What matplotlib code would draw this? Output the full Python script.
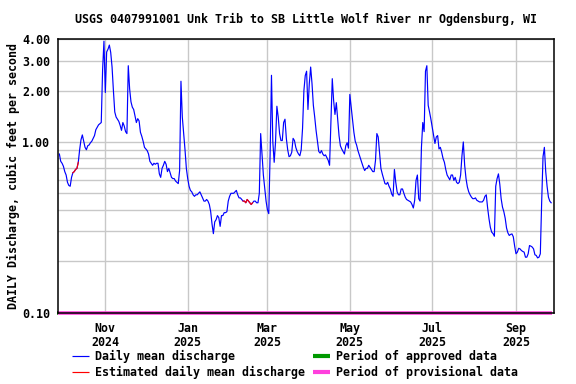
import matplotlib

matplotlib.use("Agg")
import matplotlib.pyplot as plt
import pandas as pd
from matplotlib.lines import Line2D

TITLE = "USGS 0407991001 Unk Trib to SB Little Wolf River nr Ogdensburg, WI"
YLABEL = "DAILY Discharge, cubic feet per second"

first_day = "2024-09-28"
last_day = "2025-09-27"

# daily mean discharge (cfs), read month by month
flow_2024_09 = [0.85, 0.77, 0.75]
flow_2024_10 = [0.72, 0.67, 0.64, 0.58, 0.556, 0.55, 0.62, 0.66, 0.67, 0.69,
                0.70, 0.76, 0.90, 1.03, 1.10, 1.01, 0.93, 0.90, 0.95, 0.96,
                0.99, 1.01, 1.05, 1.09, 1.18, 1.22, 1.26, 1.28, 1.30, 2.65, 3.9]
flow_2024_11 = [1.95, 3.37, 3.5, 3.7, 3.35, 2.75, 2.0, 1.5, 1.40, 1.36,
                1.32, 1.25, 1.17, 1.30, 1.24, 1.15, 1.12, 2.8, 2.05, 1.72,
                1.60, 1.55, 1.42, 1.30, 1.37, 1.33, 1.14, 1.08, 1.01, 0.93]
flow_2024_12 = [0.91, 0.89, 0.85, 0.77, 0.75, 0.73, 0.75, 0.74, 0.75, 0.75,
                0.65, 0.62, 0.70, 0.73, 0.77, 0.74, 0.67, 0.70, 0.66, 0.62,
                0.61, 0.61, 0.59, 0.58, 0.57, 0.68, 2.27, 1.40, 1.12, 0.90, 0.70]
flow_2025_01 = [0.61, 0.55, 0.52, 0.51, 0.49, 0.48, 0.49, 0.49, 0.50, 0.51,
                0.49, 0.47, 0.45, 0.45, 0.46, 0.45, 0.43, 0.39, 0.33, 0.29,
                0.34, 0.35, 0.37, 0.36, 0.32, 0.37, 0.37, 0.385, 0.385, 0.39, 0.45]
flow_2025_02 = [0.48, 0.50, 0.50, 0.50, 0.51, 0.52, 0.49, 0.47, 0.47, 0.46,
                0.45, 0.45, 0.44, 0.46, 0.45, 0.44, 0.43, 0.44, 0.45, 0.45,
                0.44, 0.44, 0.50, 1.12, 0.85, 0.64, 0.54, 0.45]
flow_2025_03 = [0.40, 0.38, 0.85, 2.46, 1.0, 0.76, 1.0, 1.62, 1.40, 1.12,
                1.02, 1.02, 1.30, 1.36, 1.05, 0.90, 0.82, 0.83, 0.87, 1.05,
                1.02, 0.93, 0.88, 0.85, 0.83, 0.90, 1.2, 2.0, 2.45, 2.6, 1.55]
flow_2025_04 = [2.2, 2.75, 2.2, 1.64, 1.40, 1.17, 1.01, 0.88, 0.86, 0.89,
                0.85, 0.83, 0.84, 0.81, 0.78, 0.73, 1.28, 2.35, 1.75, 1.45,
                1.70, 1.37, 1.09, 0.95, 0.91, 0.88, 0.85, 0.95, 0.99, 0.92]
flow_2025_05 = [1.90, 1.60, 1.34, 1.14, 1.01, 0.96, 0.89, 0.84, 0.79, 0.75,
                0.71, 0.68, 0.70, 0.70, 0.73, 0.71, 0.69, 0.67, 0.67, 0.78,
                1.12, 1.07, 0.87, 0.70, 0.65, 0.61, 0.57, 0.565, 0.58, 0.55, 0.53]
flow_2025_06 = [0.495, 0.48, 0.69, 0.58, 0.51, 0.49, 0.49, 0.53, 0.53, 0.50,
                0.475, 0.46, 0.455, 0.45, 0.445, 0.43, 0.41, 0.455, 0.595, 0.64,
                0.465, 0.45, 0.93, 1.30, 1.15, 2.6, 2.8, 1.64, 1.50, 1.36]
flow_2025_07 = [1.22, 1.09, 0.98, 1.07, 1.09, 0.91, 0.93, 0.87, 0.80, 0.76,
                0.69, 0.64, 0.62, 0.60, 0.64, 0.64, 0.595, 0.62, 0.58, 0.57,
                0.58, 0.64, 0.83, 1.00, 0.73, 0.61, 0.545, 0.51, 0.49, 0.475, 0.465]
flow_2025_08 = [0.465, 0.47, 0.455, 0.45, 0.445, 0.445, 0.445, 0.455, 0.48, 0.49,
                0.41, 0.355, 0.316, 0.296, 0.29, 0.28, 0.55, 0.61, 0.65, 0.565,
                0.465, 0.415, 0.39, 0.357, 0.313, 0.293, 0.283, 0.287, 0.289, 0.278, 0.245]
flow_2025_09 = [0.221, 0.226, 0.238, 0.236, 0.231, 0.228, 0.226, 0.211, 0.211, 0.221,
                0.247, 0.245, 0.242, 0.236, 0.218, 0.216, 0.209, 0.211, 0.221, 0.445,
                0.82, 0.93, 0.67, 0.55, 0.475, 0.45, 0.44]

estimated_periods = [("2024-10-08", "2024-10-12"), ("2025-02-11", "2025-02-18")]
approved_period = ("2024-09-26", "2024-09-27")
provisional_period = ("2024-09-27", "2025-09-28")

x_range = ("2024-09-27 05:00", "2025-09-29 03:00")
y_range = (0.1, 4.0)
month_ticks = ["2024-11-01", "2025-01-01", "2025-03-01", "2025-05-01", "2025-07-01", "2025-09-01"]
month_labels = ["Nov\n2024", "Jan\n2025", "Mar\n2025", "May\n2025", "Jul\n2025", "Sep\n2025"]
y_grid = [0.1, 0.2, 0.3, 0.4, 0.5, 0.6, 0.7, 0.8, 0.9, 1.0, 2.0, 3.0, 4.0]
y_labels = {0.1: "0.10", 1.0: "1.00", 2.0: "2.00", 3.0: "3.00", 4.0: "4.00"}

BLUE = "#0000ff"
RED = "#ff0000"
GREEN = "#009900"
PINK = "#ff40dd"
GRID = "#c8c8c8"
FONT = dict(family=["DejaVu Sans Mono"], weight="bold", size=8.4)


def main() -> None:
    dates = pd.date_range(first_day, last_day, freq="D")
    flow = (flow_2024_09 + flow_2024_10 + flow_2024_11 + flow_2024_12 + flow_2025_01
            + flow_2025_02 + flow_2025_03 + flow_2025_04 + flow_2025_05 + flow_2025_06
            + flow_2025_07 + flow_2025_08 + flow_2025_09)
    series = pd.Series(flow, index=dates)

    W, H = 576, 384
    fig = plt.figure(figsize=(W / 100, H / 100), dpi=100)
    ax = fig.add_axes([58.3 / W, 1 - 312.5 / H, (554 - 58.3) / W, (312.5 - 39.3) / H])

    ax.set_yscale("log")
    ax.set_ylim(*y_range)
    ax.set_xlim(pd.Timestamp(x_range[0]), pd.Timestamp(x_range[1]))

    ax.plot(series.index, series.values, color=BLUE, lw=0.85, zorder=3)
    for start, end in estimated_periods:
        part = series[start:end]
        ax.plot(part.index, part.values, color=RED, lw=0.85, zorder=4)

    # data-status bars along the bottom of the plot
    ax.plot(pd.to_datetime(list(approved_period)), [y_range[0]] * 2, color=GREEN,
            lw=2.6, solid_capstyle="butt", clip_on=False, zorder=2)
    ax.plot(pd.to_datetime(list(provisional_period)), [y_range[0]] * 2, color=PINK,
            lw=2.6, solid_capstyle="butt", clip_on=False, zorder=2)

    ax.set_yticks(y_grid)
    ax.set_yticklabels([y_labels.get(v, "") for v in y_grid])
    ax.yaxis.set_minor_locator(matplotlib.ticker.NullLocator())
    ax.set_xticks(pd.to_datetime(month_ticks))
    ax.set_xticklabels(month_labels, linespacing=1.05)
    ax.tick_params(length=0, pad=6)
    ax.tick_params(axis="x", pad=7)
    for lab in ax.get_xticklabels() + ax.get_yticklabels():
        lab.set_fontfamily(FONT["family"])
        lab.set_fontweight("bold")
        lab.set_fontsize(FONT["size"])

    ax.grid(True, color=GRID, lw=1.0, zorder=1)
    ax.set_axisbelow(True)
    for sp in ax.spines.values():
        sp.set_linewidth(1.1)
        sp.set_color("black")
        sp.set_zorder(5)

    fig.text(306 / W, 1 - 19 / H, TITLE, ha="center", va="center", **FONT)
    fig.text(13 / W, 1 - 176 / H, YLABEL, ha="center", va="center", rotation=90, **FONT)

    legend = [
        (72, 356, BLUE, 0.85, "Daily mean discharge"),
        (72, 372, RED, 0.85, "Estimated daily mean discharge"),
        (313, 356, GREEN, 3.0, "Period of approved data"),
        (313, 372, PINK, 3.0, "Period of provisional data"),
    ]
    for x0, y0, color, lw, label in legend:
        fy = 1 - y0 / H
        fig.add_artist(Line2D([x0 / W, (x0 + 17) / W], [fy, fy], color=color, lw=lw,
                              solid_capstyle="butt", transform=fig.transFigure))
        fig.text((x0 + 23) / W, fy, label, ha="left", va="center", **FONT)

    fig.savefig("out.png", dpi=100)


if __name__ == "__main__":
    main()
